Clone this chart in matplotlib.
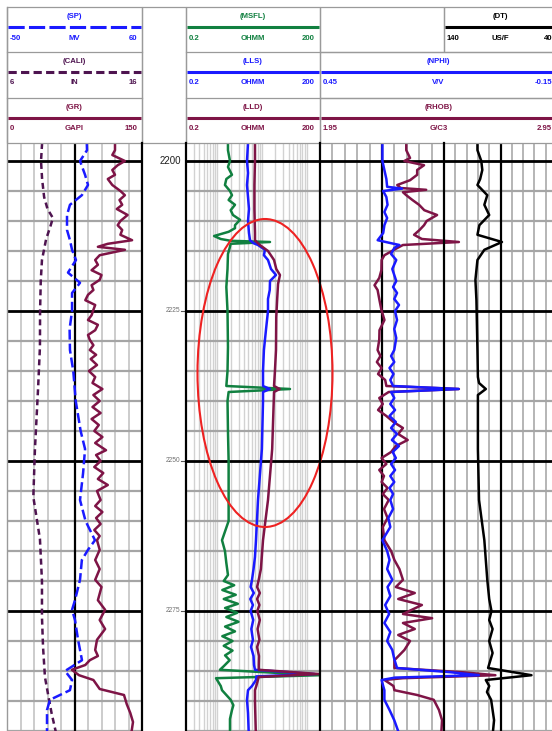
import matplotlib.pyplot as plt
from matplotlib.patches import Ellipse, Rectangle

plt.rcParams['font.family'] = ['Liberation Sans', 'DejaVu Sans']

# depth window and labels
depth_top, depth_bottom = 2197.0, 2296.5
depth_labels = [2200, 2225, 2250, 2275]

# ---- track 1 logs: (depth, value) ----
cali_log = [(2197.0, 8.6), (2200, 8.52), (2203, 8.6), (2206, 8.75), (2208, 9.0), (2209.5, 9.4),
            (2211, 9.2), (2213, 8.9), (2216.5, 8.59), (2220, 8.5), (2225, 8.45), (2231, 8.44),
            (2238, 8.3), (2248, 8.07), (2256, 7.95), (2263, 8.44), (2270, 8.59), (2276, 8.59),
            (2281, 8.67), (2286, 8.81), (2289, 9.05), (2292, 9.3), (2296.5, 9.75)]
sp_log = [(2197.0, 15), (2198.2, 15.2), (2200, 9.5), (2202.3, 13.6), (2204, 16), (2205.7, 11),
          (2207.3, 1.3), (2209, -1.1), (2211.5, -1.1), (2213.2, 1.3), (2214.8, 3), (2216.5, 6.2),
          (2218.6, -0.3), (2220.3, 9.5), (2222, 3), (2225, 3), (2228, 1), (2231.5, 1.3), (2235, 4),
          (2240, 6), (2245, 10), (2248, 13.6), (2252, 12), (2256.5, 9.5), (2260, 14), (2263.2, 21.7),
          (2264.8, 16), (2266.5, 11), (2269.8, 9.5), (2273.2, 5.4), (2274.8, 3), (2276.5, 5.4),
          (2279.8, 7.9), (2281.5, 9.5), (2283.2, 11.1), (2285, -2.7), (2286.5, 3), (2288.2, 1.3),
          (2289.8, -15), (2291.5, -17.4), (2296.5, -17.4)]
gr_log = [(2197.0, 120), (2198.2, 120), (2199, 117), (2200, 131), (2200.7, 123), (2201.5, 117),
          (2202.3, 120), (2203, 112), (2204, 117), (2205, 126), (2205.7, 131), (2206.5, 125),
          (2207.3, 128), (2208, 122), (2209, 134), (2210, 126), (2210.7, 123), (2211.5, 128),
          (2212.3, 126), (2213.2, 139), (2213.8, 112), (2214.3, 101), (2214.8, 131), (2215.7, 103),
          (2216.5, 98), (2217.3, 101), (2218.2, 94), (2219, 105), (2219.8, 103), (2220.7, 94),
          (2221.5, 96), (2222.3, 90), (2223.2, 87), (2224, 98), (2224.8, 96), (2225.7, 94),
          (2226.5, 90), (2227.3, 101), (2228.2, 98), (2229, 90), (2229.8, 92), (2230.7, 96),
          (2231.5, 92), (2232.3, 99), (2233, 93), (2234, 100), (2235, 91), (2236, 98), (2237, 95),
          (2238, 106), (2239, 96), (2240, 103), (2241, 95), (2242, 104), (2243, 94), (2244, 102),
          (2245, 97), (2246, 106), (2247, 98), (2248.2, 110), (2249, 99), (2250, 104), (2251, 97),
          (2252, 107), (2253, 101), (2254, 112), (2255, 100), (2256.5, 104), (2257.5, 98),
          (2258.5, 106), (2259.5, 99), (2260.5, 104), (2261.5, 97), (2262.5, 103),
          (2263.2, 100), (2264.8, 103), (2266.5, 98), (2268, 103), (2269.8, 98), (2271, 105),
          (2273.2, 101), (2274.8, 109), (2276.5, 103), (2278, 109), (2279.8, 100), (2281.5, 98),
          (2282.5, 101), (2283.2, 92), (2284, 87), (2284.8, 72), (2285.7, 80), (2286.5, 96),
          (2288, 103), (2289, 130), (2290.5, 133), (2292, 137), (2293.5, 140), (2296.5, 137)]

# ---- track 2 logs (resistivity, ohmm) ----
msfl_log = [(2197.0, 1.74), (2198.2, 1.74), (2200, 1.93), (2201, 1.74), (2202.3, 2.14), (2203, 1.6),
            (2204, 1.49), (2205, 1.93), (2205.7, 2.14), (2206.5, 1.8), (2207.3, 2.5), (2208.2, 2.0),
            (2209, 2.25), (2209.8, 3.24), (2210.7, 2.5), (2211.2, 2.5), (2211.8, 1.8), (2212.5, 0.85),
            (2213, 1.2), (2213.3, 2.0), (2213.5, 15.2), (2213.8, 2.0), (2214.5, 1.9), (2215.5, 1.74),
            (2218, 1.7), (2221, 1.6), (2225, 1.7), (2231, 1.74), (2235, 1.7), (2237.5, 1.6),
            (2238, 42.6), (2238.5, 1.8), (2240, 1.7), (2245, 1.74), (2250, 1.8), (2255, 1.8),
            (2260, 1.8), (2263.2, 1.28), (2265, 1.49), (2267, 1.6), (2269, 1.74), (2270, 1.4),
            (2270.7, 2.4), (2271.5, 1.3), (2272.3, 2.6), (2273, 1.4), (2273.8, 2.9), (2274.5, 1.5),
            (2275.3, 2.8), (2276, 1.6), (2276.8, 3.0), (2277.6, 1.5), (2278.4, 2.5), (2279.2, 1.3),
            (2280, 2.2), (2280.8, 1.4), (2281.6, 2.2), (2282.4, 1.5), (2283.2, 1.9), (2284.2, 1.4),
            (2284.8, 1.15), (2285.7, 195), (2286.2, 0.94), (2287.5, 1.2), (2288.2, 1.28), (2289, 1.6),
            (2289.8, 2.0), (2290.7, 2.3), (2291.5, 2.14), (2293, 1.93), (2296.5, 1.93)]
lls_log = [(2197.0, 4.89), (2200, 4.64), (2202, 4.89), (2204, 4.64), (2206, 4.89), (2208, 5.14),
           (2210, 4.89), (2212, 5.14), (2213.2, 5.42), (2213.7, 6.5), (2214, 8.18), (2214.8, 11.7),
           (2215.7, 11.1), (2216.5, 13.7), (2218, 16), (2219, 20.7), (2220, 15.2), (2221.5, 15),
           (2223, 13.7), (2225, 13.7), (2228, 12.4), (2231.5, 11.1), (2235, 10.6), (2237.5, 10.6),
           (2238, 15), (2238.5, 10.6), (2240, 10.6), (2248, 10), (2256.5, 8.18), (2263.2, 7.38),
           (2266, 7.0), (2268, 6.5), (2269.8, 6.01), (2271, 5.6), (2272, 6.6), (2273, 5.5), (2274, 6.3),
           (2275, 5.6), (2276.5, 6.4), (2278, 5.8), (2279.8, 6.3), (2281, 5.7), (2282.5, 6.5),
           (2284, 6.66), (2284.8, 7.0), (2285.5, 150), (2285.9, 7.5), (2286.5, 7.38), (2287.5, 6.0),
           (2288.2, 4.89), (2289.8, 4.64), (2292, 4.89), (2296.5, 5.14)]
lld_log = [(2197.0, 7.0), (2200, 7.0), (2204, 6.8), (2208, 6.8), (2212, 7.0), (2213.2, 7.0),
           (2214, 9), (2215, 13.7), (2216.5, 18.7), (2218, 21), (2219, 25.4), (2220.5, 23),
           (2223, 22), (2226, 21), (2231.5, 20.7), (2235, 19.6), (2237.5, 18.7), (2238, 25),
           (2238.5, 18.7), (2248, 17), (2256.5, 13.7), (2263.2, 10.6), (2268, 9.5), (2269.8, 8.5),
           (2271, 7.8), (2272, 9.0), (2273, 7.8), (2274, 8.8), (2275, 7.9), (2276.5, 9.0), (2278, 8.0),
           (2279.8, 8.8), (2281, 7.8), (2282.5, 8.6), (2284, 8.5), (2284.8, 8.5), (2285.5, 190),
           (2286, 8.5), (2287.5, 7.5), (2288.2, 7.0), (2290, 7.0), (2296.5, 7.38)]

# ---- track 3 logs ----
nphi_log = [(2197.0, 0.292), (2200, 0.292), (2201.5, 0.287), (2203, 0.282), (2204.3, 0.28),
            (2204.6, 0.242), (2205, 0.29), (2206, 0.282), (2207.3, 0.279), (2208.5, 0.287),
            (2209.5, 0.28), (2210.7, 0.287), (2212, 0.29), (2213.2, 0.304), (2213.7, 0.27),
            (2214, 0.249), (2214.5, 0.262), (2215.5, 0.27), (2216.5, 0.257), (2218, 0.267),
            (2219, 0.262), (2220, 0.257), (2221, 0.265), (2222, 0.255), (2223, 0.262), (2224, 0.25),
            (2225, 0.26), (2226.5, 0.255), (2228, 0.262), (2229.5, 0.257), (2231.5, 0.262),
            (2232.5, 0.27), (2233.5, 0.262), (2234.5, 0.274), (2235.5, 0.264), (2236.5, 0.272),
            (2237.5, 0.265), (2238, 0.099), (2238.5, 0.27), (2239.5, 0.262), (2240.5, 0.272),
            (2241.5, 0.26), (2242.5, 0.274), (2243.5, 0.258), (2244.5, 0.27), (2245.5, 0.255),
            (2246.5, 0.268), (2247.5, 0.25), (2248.5, 0.266), (2249.5, 0.258), (2250.5, 0.27),
            (2251.5, 0.26), (2252.5, 0.272), (2253.5, 0.262), (2254.5, 0.274), (2255.5, 0.265),
            (2256.5, 0.272), (2258, 0.265), (2259.5, 0.277), (2261, 0.272), (2263.2, 0.292),
            (2265, 0.28), (2266.5, 0.274),
            (2268, 0.28), (2269.8, 0.267), (2271, 0.279), (2272.5, 0.272), (2274, 0.285),
            (2275.5, 0.275), (2277, 0.287), (2278.5, 0.272), (2280, 0.28), (2281.5, 0.267),
            (2283, 0.262), (2284.5, 0.255), (2285.2, 0.12), (2285.7, 0.048), (2286.1, 0.26),
            (2286.5, 0.294), (2287.5, 0.29), (2288.2, 0.287), (2289.8, 0.287), (2291.5, 0.274),
            (2293.2, 0.262), (2296.5, 0.244)]
rhob_log = [(2197.0, 2.314), (2198.2, 2.314), (2199.5, 2.33), (2200, 2.306), (2200.7, 2.389),
            (2201.5, 2.36), (2202.3, 2.36), (2203.2, 2.33), (2204, 2.276), (2204.5, 2.29),
            (2204.8, 2.398), (2205.2, 2.3), (2205.7, 2.314), (2206.5, 2.34), (2207.3, 2.368),
            (2208.2, 2.39), (2209, 2.444), (2210, 2.4), (2210.7, 2.389), (2211.5, 2.37),
            (2212.3, 2.347), (2213, 2.38), (2213.5, 2.536), (2214, 2.3), (2214.5, 2.276),
            (2215.7, 2.222), (2216.5, 2.21), (2218.2, 2.209), (2219.5, 2.2), (2220.7, 2.18),
            (2221.5, 2.193), (2223.2, 2.201), (2224.8, 2.209), (2226.5, 2.222), (2228.2, 2.201),
            (2229.8, 2.2), (2231.5, 2.193), (2232.5, 2.205), (2233.5, 2.19), (2234.5, 2.21),
            (2235.5, 2.195), (2236.5, 2.225), (2237.5, 2.23), (2238, 2.536), (2238.5, 2.24),
            (2239.5, 2.2), (2240.5, 2.215), (2241.5, 2.195), (2242.5, 2.23), (2243.5, 2.26),
            (2244.5, 2.3), (2245.5, 2.28), (2246.5, 2.32), (2247.5, 2.27), (2248.5, 2.25),
            (2249.5, 2.21), (2250.5, 2.23), (2251.5, 2.2), (2252.5, 2.22), (2253.5, 2.21),
            (2254.5, 2.235), (2255.5, 2.215), (2256.5, 2.24), (2258, 2.22), (2259.5, 2.235),
            (2261, 2.215), (2263.2, 2.222), (2265, 2.25),
            (2266.5, 2.264), (2268, 2.285), (2269.8, 2.3), (2271, 2.27), (2272, 2.35), (2273, 2.28),
            (2274, 2.38), (2275.5, 2.3), (2276.2, 2.423), (2277, 2.3), (2278, 2.35), (2279, 2.28),
            (2280, 2.33), (2281.5, 2.306), (2283.2, 2.264), (2284.5, 2.264), (2285.2, 2.55),
            (2285.7, 2.69), (2286.2, 2.3), (2286.5, 2.222), (2287.5, 2.26), (2288.2, 2.264),
            (2289, 2.36), (2289.8, 2.43), (2291.5, 2.452), (2293.2, 2.465), (2296.5, 2.46)]
dt_log = [(2197.0, 110.4), (2198.2, 110.4), (2200, 107), (2201.5, 106.1), (2203, 108), (2204, 110.4),
          (2205.7, 101.7), (2207.3, 104.3), (2209, 100), (2210.7, 108.7), (2212.3, 110.4),
          (2213.5, 88.7), (2214.8, 104.3), (2216.5, 110.4), (2219.8, 112.2), (2223.2, 111.3),
          (2231.5, 110.4), (2236, 110), (2237, 109), (2238, 103), (2239, 110), (2248, 110),
          (2256.5, 109), (2263.2, 104.3), (2266.5, 103), (2269.8, 101.7), (2273, 100), (2275, 98),
          (2276.5, 100), (2278, 97), (2280, 100), (2282, 97), (2284.5, 101), (2285.7, 62.6),
          (2286.5, 103), (2287.5, 100), (2288.5, 102), (2289.8, 98.3), (2291.5, 97), (2293.2, 95.7),
          (2296.5, 97.4)]

BLUE = '#1a1aff'
MAROON = '#7e1446'
PURPLE = '#4e1450'
GREEN = '#118040'

W, H = 552, 731
PLOT_TOP, PLOT_BOT = 143, 740
fig = plt.figure(figsize=(W / 100, H / 100), dpi=100)


def track_axes(x0, x1):
    ax = fig.add_axes([x0 / W, 1 - PLOT_BOT / H, (x1 - x0) / W, (PLOT_BOT - PLOT_TOP) / H])
    ax.set_ylim(depth_bottom, depth_top)
    ax.set_axis_off()
    return ax


def depth_lines(ax):
    for d in range(2200, 2300, 5):
        if d % 25 == 0:
            ax.axhline(d, color='black', lw=2.0, zorder=2)
        else:
            ax.axhline(d, color='#a5a5a5', lw=1.6, zorder=1)


def linear_grid(ax, light):
    ax.set_xlim(0, 10)
    for i in range(1, 10):
        if i == 5:
            ax.axvline(i, color='black', lw=1.6, zorder=2)
        else:
            ax.axvline(i, color=light, lw=1.3, zorder=0.5)
    depth_lines(ax)


def draw(x0, x1, lim, log_pts, color, ls='-', log=False):
    ax = track_axes(x0, x1)
    if log:
        ax.set_xscale('log')
    ax.set_xlim(*lim)
    d, v = zip(*log_pts)
    ax.plot(v, d, color=color, lw=1.8, ls=ls, solid_joinstyle='round')
    return ax


# grids
ax1 = track_axes(7, 142)
linear_grid(ax1, '#c8c8c8')

axd = track_axes(142, 186)
axd.set_xlim(0, 1)
for d in depth_labels:
    if d == depth_labels[0]:
        axd.text(0.64, d, str(d), ha='center', va='center', fontsize=7, color='#202020')
    else:
        axd.text(0.70, d, str(d), ha='center', va='center', fontsize=4.8, color='#707070')
        axd.plot([0.88, 1.0], [d, d], color='#555555', lw=0.8)

ax2 = track_axes(186, 320)
ax2.set_xscale('log')
ax2.set_xlim(0.2, 200)
for dec in [0.1, 1, 10, 100]:
    for k in range(1, 10):
        v = k * dec
        if 0.2 < v < 200:
            ax2.axvline(v, color='#d2d2d2', lw=1.0, zorder=0.5)
depth_lines(ax2)

ax3 = track_axes(320, 444)
linear_grid(ax3, '#b0b0b0')
ax4 = track_axes(444, 557)
linear_grid(ax4, '#b0b0b0')

# curves
draw(7, 142, (6, 16), cali_log, PURPLE, ls=(0, (2.4, 1.6)))
draw(7, 142, (-50, 60), sp_log, BLUE, ls=(0, (4, 1.6)))
draw(7, 142, (0, 150), gr_log, MAROON)
draw(186, 320, (0.2, 200), msfl_log, GREEN, log=True)
draw(186, 320, (0.2, 200), lls_log, BLUE, log=True)
draw(186, 320, (0.2, 200), lld_log, MAROON, log=True)
draw(444, 557, (140, 40), dt_log, 'black')
draw(320, 557, (1.95, 2.95), rhob_log, MAROON)
draw(320, 557, (0.45, -0.15), nphi_log, BLUE)

# frame / header drawn in pixel space
fr = fig.add_axes([0, 0, 1, 1])
fr.set_xlim(0, W)
fr.set_ylim(H, 0)
fr.axis('off')

rows = [7, 52, 98, 143]
grey = '#9a9a9a'
for x in [142, 186, 320, 444]:
    fr.plot([x, x], [PLOT_TOP, H], color='black', lw=1.6)
fr.plot([7, 7], [7, H], color=grey, lw=1.0)

cells = [(7, 142, 0, 3), (142, 186, 0, 3), (186, 320, 0, 3), (320, 444, 0, 1),
         (444, 557, 0, 1), (320, 557, 1, 2), (320, 557, 2, 3)]
for x0, x1, r0, r1 in cells:
    fr.add_patch(Rectangle((x0, rows[r0]), x1 - x0, rows[r1] - rows[r0], fill=False,
                           edgecolor=grey, lw=0.9))
for x0, x1 in [(7, 142), (186, 320)]:
    for y in rows[1:3]:
        fr.plot([x0, x1], [y, y], color=grey, lw=0.9)

headers = [
    (7, 142, 0, '(SP)', 'MV', '-50', '60', BLUE, (0, (5.3, 1.4))),
    (7, 142, 1, '(CALI)', 'IN', '6', '16', PURPLE, (0, (2.7, 1.4))),
    (7, 142, 2, '(GR)', 'GAPI', '0', '150', MAROON, '-'),
    (186, 320, 0, '(MSFL)', 'OHMM', '0.2', '200', GREEN, '-'),
    (186, 320, 1, '(LLS)', 'OHMM', '0.2', '200', BLUE, '-'),
    (186, 320, 2, '(LLD)', 'OHMM', '0.2', '200', MAROON, '-'),
    (444, 557, 0, '(DT)', 'US/F', '140', '40', 'black', '-'),
    (320, 557, 1, '(NPHI)', 'V/V', '0.45', '-0.15', BLUE, '-'),
    (320, 557, 2, '(RHOB)', 'G/C3', '1.95', '2.95', MAROON, '-'),
]
fs = 5.6
for x0, x1, r, title, unit, lo, hi, col, ls in headers:
    y0 = rows[r]
    cx = (x0 + x1) / 2
    fr.text(cx, y0 + 9.5, title, ha='center', va='center', fontsize=fs, fontweight='bold', color=col)
    fr.plot([x0 + 1, x1 - 1], [y0 + 20.3, y0 + 20.3], color=col, lw=2.2, ls=ls, solid_capstyle='butt')
    fr.text(x0 + 3, y0 + 31, lo, ha='left', va='center', fontsize=fs, fontweight='bold', color=col)
    fr.text(cx, y0 + 31, unit, ha='center', va='center', fontsize=fs, fontweight='bold', color=col)
    fr.text(x1 - 5, y0 + 31, hi, ha='right', va='center', fontsize=fs, fontweight='bold', color=col)

# highlighted zone
fr.add_patch(Ellipse((265, 373), 135, 308, fill=False, edgecolor='#ee2222', lw=1.5))

fig.savefig('out.png', dpi=100)
